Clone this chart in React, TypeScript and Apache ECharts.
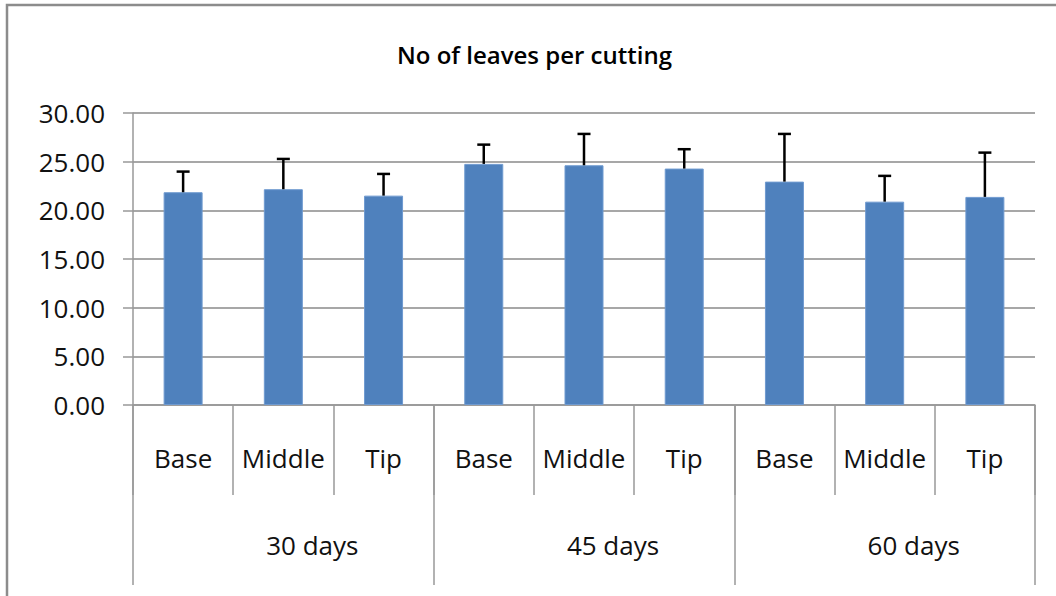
import React, { useEffect, useRef } from "react";
import * as echarts from "echarts";

const subCategories = ["Base", "Middle", "Tip", "Base", "Middle", "Tip", "Base", "Middle", "Tip"];
const groups = ["30 days", "45 days", "60 days"];
const means = [21.86, 22.17, 21.51, 24.77, 24.63, 24.29, 22.95, 20.89, 21.38];
const upperErrors = [23.98, 25.28, 23.74, 26.75, 27.85, 26.28, 27.85, 23.54, 25.93];
const yTicks = { min: 0, max: 30, interval: 5 };
const title = "No of leaves per cutting";

const FONT = "'Open Sans', 'Liberation Sans', sans-serif";

export default function App() {
  const ref = useRef<HTMLDivElement>(null);
  useEffect(() => {
    if (!ref.current) return;
    const chart = echarts.init(ref.current, undefined, { renderer: "svg" });
    chart.setOption({
      animation: false,
      backgroundColor: "#fff",
      title: {
        text: title,
        left: 397,
        top: 42,
        padding: 0,
        textStyle: { fontFamily: FONT, fontSize: 24, fontWeight: 600, color: "#000" },
      },
      graphic: [
        {
          type: "rect",
          shape: { x: 7, y: 5, width: 1200, height: 800 },
          style: { fill: "none", stroke: "#8c8c8c", lineWidth: 2.5 },
          silent: true,
        },
      ],
      grid: { left: 133, right: 21, top: 113, bottom: 191, containLabel: false },
      xAxis: [
        {
          type: "category",
          data: subCategories,
          position: "bottom",
          axisLine: { show: true, lineStyle: { color: "#999", width: 1.5 } },
          axisTick: { show: true, interval: 0, length: 90, lineStyle: { color: "#999", width: 1.5 } },
          axisLabel: { interval: 0, margin: 40, fontFamily: FONT, fontSize: 26, color: "#111" },
        },
        {
          type: "category",
          data: groups,
          position: "bottom",
          offset: 0,
          axisLine: { show: false },
          axisTick: { show: true, interval: 0, length: 180, lineStyle: { color: "#999", width: 1.5 } },
          axisLabel: { interval: 0, margin: 127, fontFamily: FONT, fontSize: 26, color: "#111", padding: [0, 0, 0, 58] },
        },
      ],
      yAxis: {
        type: "value",
        min: yTicks.min,
        max: yTicks.max,
        interval: yTicks.interval,
        axisLine: { show: true, lineStyle: { color: "#999", width: 1.5 } },
        axisTick: { show: true, length: 10, lineStyle: { color: "#999", width: 1.5 } },
        axisLabel: {
          margin: 28,
          fontFamily: FONT,
          fontSize: 26,
          color: "#111",
          formatter: (v: number) => v.toFixed(2),
        },
        splitLine: { show: true, lineStyle: { color: "#8a8a8a", width: 1.5 } },
      },
      series: [
        {
          type: "bar",
          xAxisIndex: 0,
          data: means,
          barWidth: 39,
          itemStyle: { color: "#4F81BD", borderColor: "#6f9ad0", borderWidth: 1 },
          z: 2,
        },
        {
          type: "custom",
          xAxisIndex: 0,
          data: means.map((m, i) => [i, m, upperErrors[i]]),
          z: 3,
          renderItem: (params: any, api: any) => {
            const i = api.value(0);
            const base = api.coord([i, api.value(1)]);
            const top = api.coord([i, api.value(2)]);
            const half = 6.5;
            const style = { stroke: "#000", lineWidth: 2.5 };
            return {
              type: "group",
              children: [
                { type: "line", shape: { x1: base[0], y1: base[1], x2: top[0], y2: top[1] }, style },
                { type: "line", shape: { x1: top[0] - half, y1: top[1], x2: top[0] + half, y2: top[1] }, style },
              ],
            };
          },
        },
      ],
    });
    return () => chart.dispose();
  }, []);
  return <div ref={ref} style={{ position: "fixed", left: 0, top: 0, width: 1056, height: 596 }} />;
}
